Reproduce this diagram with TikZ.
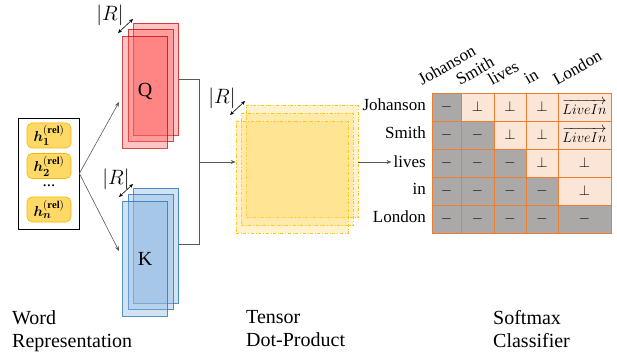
\documentclass[tikz,border=0pt]{standalone}
\usepackage{fontspec}
\setmainfont{Liberation Serif}
\usepackage{amsmath,bm}
\usetikzlibrary{arrows.meta}

\definecolor{qfill}{HTML}{FF5A5A}
\definecolor{qline}{HTML}{C00000}
\definecolor{kfill}{HTML}{8DB8E2}
\definecolor{kline}{HTML}{2E75B6}
\definecolor{tfill}{HTML}{FFD966}
\definecolor{tline}{HTML}{FFC000}
\definecolor{hfill}{HTML}{FFD966}
\definecolor{hline}{HTML}{F2B800}
\definecolor{cgray}{HTML}{ABA8A8}
\definecolor{cpink}{HTML}{FBE5D6}
\definecolor{cedge}{HTML}{ED7D31}

\begin{document}
\begin{tikzpicture}[x=1pt,y=-1pt,
  font=\fontsize{17}{20}\selectfont,
  >={Stealth[length=5pt,width=4pt]},
  wire/.style={draw=black!65, line width=0.6pt},
  dimarrow/.style={<->, line width=0.6pt, >={Stealth[length=4pt,width=3.5pt]}},
  wordbox/.style={draw, line width=0.8pt, minimum width=61, minimum height=111, inner sep=0},
  hbox/.style={draw=hline, fill=hfill, rounded corners=5pt, minimum width=44,
    minimum height=25, inner sep=0, line width=0.6pt, font=\fontsize{15}{18}\selectfont},
  qbox/.style={draw=qline, fill=qfill, fill opacity=0.36, draw opacity=0.7,
    text opacity=1, minimum width=45, minimum height=112, inner sep=0, line width=0.7pt,
    font=\fontsize{20}{24}\selectfont},
  kbox/.style={draw=kline, fill=kfill, fill opacity=0.4, draw opacity=0.8,
    text opacity=1, minimum width=45, minimum height=115, inner sep=0, line width=0.7pt,
    font=\fontsize{20}{24}\selectfont},
  tbox/.style={draw=tline, dash dot, fill=tfill, fill opacity=0.33, draw opacity=0.9,
    minimum width=112, minimum height=112, inner sep=0, line width=0.6pt},
  cell/.style={draw=cedge, line width=0.8pt, minimum height=28, inner sep=0,
    font=\fontsize{15}{18}\selectfont},
  gcell/.style={cell, fill=cgray},
  pcell/.style={cell, fill=cpink},
  dimlabel/.style={font=\fontsize{20}{24}\selectfont, inner sep=0},
  caption/.style={font=\fontsize{20}{23}\selectfont, align=left, anchor=north west, inner sep=0},
  rowlabel/.style={anchor=east, inner sep=2pt},
  collabel/.style={rotate=30, anchor=base west, inner sep=0}
]
\useasboundingbox (0,0) rectangle (617,355);

% word representation
\node[wordbox] (wr) at (48.5,173.5) {};
\node[hbox] (h1) at (49,135.5) {$\bm{h}_{\bm{1}}^{\mathbf{(rel)}}$};
\node[hbox] (h2) at (49,166) {$\bm{h}_{\bm{2}}^{\mathbf{(rel)}}$};
\node[inner sep=0] (hdots) at (49,186) {...};
\node[hbox] (hn) at (49,209.5) {$\bm{h}_{\bm{n}}^{\mathbf{(rel)}}$};

% Q stack
\node[qbox] (qb) at (156,79) {};
\node[qbox] (qm) at (150.5,85.5) {};
\node[qbox] (qf) at (145,92) {Q};
% K stack
\node[kbox] (kb) at (156,245.5) {};
\node[kbox] (km) at (150.5,252) {};
\node[kbox] (kf) at (145,258.5) {K};

\coordinate (qin) at (119,102);
\coordinate (kin) at (119,251);
\draw[wire,->] (wr.east) -- (qin);
\draw[wire,->] (wr.east) -- (kin);

% relation dimension markers
\coordinate (qd1) at (118,33);  \coordinate (qd2) at (133,19);
\draw[dimarrow] (qd1) -- (qd2);
\node[dimlabel] (qR) at (110,15) {$|R|$};
\coordinate (kd1) at (119,197); \coordinate (kd2) at (133,184);
\draw[dimarrow] (kd1) -- (kd2);
\node[dimlabel] (kR) at (116,179) {$|R|$};

% tensor stack
\node[tbox] (tb) at (302,161.5) {};
\node[tbox] (tm) at (297,169.5) {};
\node[tbox] (tf) at (292,177) {};
\coordinate (td1) at (230,115); \coordinate (td2) at (245,101);
\draw[dimarrow] (td1) -- (td2);
\node[dimlabel] (tR) at (222,98) {$|R|$};

% joining Q and K into the tensor product
\coordinate (qturn) at (199,79);
\coordinate (kturn) at (199,244);
\coordinate (mj) at (199,162);
\draw[wire] (qb.east |- qturn) -- (qturn) -- (kturn) -- (kb.east |- kturn);
\draw[wire,->] (mj) -- (mj -| tf.west);

% classifier table
\foreach \r/\y in {0/107,1/135,2/163,3/191,4/219}{
  \foreach \c/\x/\w in {0/446.5/29,1/477.5/33,2/510/32,3/542/32,4/584.5/53}{
    \ifnum\c>\r
      \ifnum\c=4 \ifnum\r<2
        \node[pcell, minimum width=\w] (c\r\c) at (\x,\y) {$\overrightarrow{LiveIn}$};
      \else
        \node[pcell, minimum width=\w] (c\r\c) at (\x,\y) {$\perp$};
      \fi
      \else
        \node[pcell, minimum width=\w] (c\r\c) at (\x,\y) {$\perp$};
      \fi
    \else
      \node[gcell, minimum width=\w] (c\r\c) at (\x,\y) {$-$};
    \fi
  }
}

\node[rowlabel] (rJ) at (428,105) {Johanson};
\node[rowlabel] (rS) at (428,133) {Smith};
\node[rowlabel] (rl) at (428,162) {lives};
\node[rowlabel] (ri) at (428,189) {in};
\node[rowlabel] (rL) at (428,217) {London};

\node[collabel] (hJ) at (422,86) {Johanson};
\node[collabel] (hS) at (460,86) {Smith};
\node[collabel] (hl) at (492,86) {lives};
\node[collabel] (hi) at (528,85) {in};
\node[collabel] (hL) at (557,86) {London};

\draw[wire,->] (tb.east |- mj) -- (rl.west);

% captions
\node[caption] (cw) at (12,310) {Word\\Representation};
\node[caption] (ct) at (246,310) {Tensor\\Dot-Product};
\node[caption] (cs) at (493,310) {Softmax\\Classifier};
\end{tikzpicture}
\end{document}
